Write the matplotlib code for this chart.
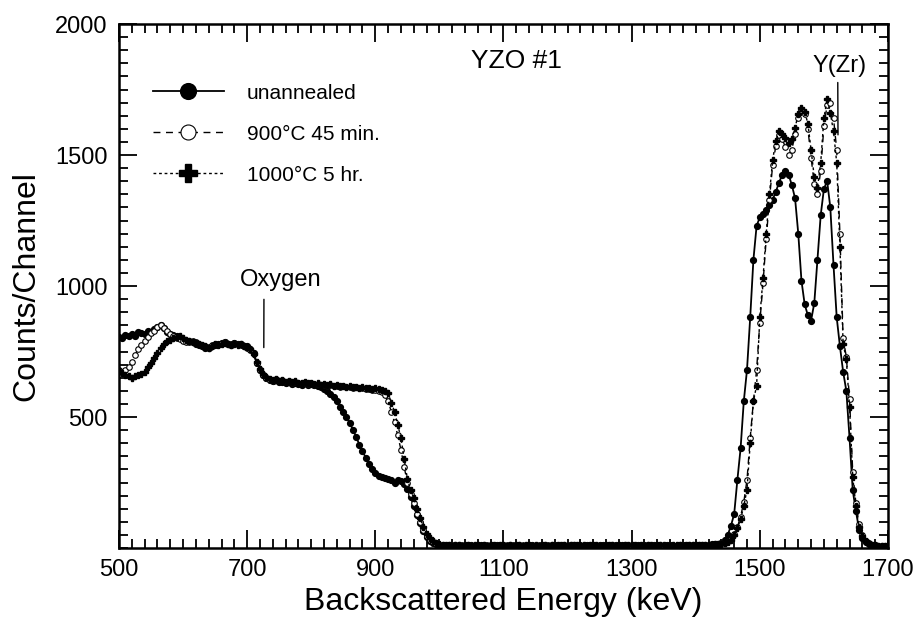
import numpy as np
import matplotlib
matplotlib.use('Agg')
import matplotlib.pyplot as plt
from matplotlib.ticker import MultipleLocator

# Canales de energía (keV), uno cada 5 keV
energia = np.arange(500, 1705, 5)

sin_recocer = [
    805, 800, 812, 808, 815, 810, 825, 820, 818, 830, 826, 835, 845, 850, 838, 825, 815, 812, 808, 800,
    795, 790, 792, 785, 780, 776, 770, 765, 762, 770, 775, 778, 782, 786, 780, 776, 782, 778, 780, 772,
    770, 760, 745, 705, 680, 660, 650, 640, 636, 642, 632, 635, 628, 632, 625, 630, 626, 622, 628, 624,
    625, 622, 618, 615, 608, 600, 588, 575, 560, 540, 520, 500, 478, 452, 425, 395, 370, 345, 320, 300,
    285, 275, 270, 266, 262, 258, 250, 258, 255, 245, 225, 195, 160, 125, 95, 65, 42, 28, 18, 14,
    12, 10, 9, 11, 8, 10, 12, 9, 7, 10, 11, 9, 8, 10, 12, 9, 10, 8, 11, 9,
    10, 8, 11, 9, 10, 12, 8, 9, 11, 10, 9, 8, 10, 11, 9, 12, 10, 8, 9, 11,
    9, 10, 12, 8, 11, 9, 10, 8, 12, 9, 10, 11, 8, 9, 10, 12, 9, 11, 10, 8,
    10, 9, 11, 8, 10, 12, 9, 10, 8, 11, 9, 10, 12, 9, 8, 10, 11, 9, 12, 10,
    11, 12, 10, 13, 12, 14, 15, 17, 20, 30, 50, 85, 130, 260, 380, 560, 680, 880, 1100, 1230,
    1262, 1275, 1290, 1308, 1330, 1360, 1395, 1425, 1440, 1425, 1385, 1335, 1200, 1020, 930, 888, 868, 935, 1100, 1270,
    1370, 1402, 1300, 1080, 880, 770, 673, 600, 420, 220, 140, 70, 40, 22, 15, 12, 10, 9, 8, 8,
    7,
]

rec_900 = [
    680, 672, 678, 690, 710, 735, 760, 775, 790, 805, 820, 830, 845, 852, 840, 828, 815, 808, 800, 798,
    792, 788, 785, 790, 785, 780, 776, 772, 768, 775, 780, 776, 782, 786, 780, 778, 784, 780, 776, 770,
    765, 755, 740, 705, 680, 662, 650, 642, 638, 644, 636, 640, 634, 636, 630, 634, 628, 630, 628, 625,
    628, 624, 626, 622, 624, 620, 622, 618, 620, 616, 618, 614, 616, 612, 614, 610, 612, 608, 606, 604,
    602, 600, 596, 585, 560, 520, 480, 430, 375, 310, 250, 205, 170, 130, 100, 70, 45, 32, 22, 16,
    13, 11, 9, 10, 12, 8, 10, 11, 9, 12, 10, 9, 11, 8, 10, 12, 9, 11, 10, 9,
    10, 12, 9, 11, 8, 10, 11, 9, 12, 10, 8, 11, 10, 9, 12, 10, 11, 8, 10, 9,
    11, 9, 10, 12, 9, 8, 11, 10, 9, 12, 10, 11, 9, 10, 8, 12, 11, 9, 10, 11,
    9, 11, 10, 8, 12, 10, 9, 11, 10, 12, 9, 10, 11, 8, 10, 9, 12, 10, 11, 10,
    10, 11, 10, 12, 13, 12, 14, 16, 18, 20, 25, 35, 55, 80, 120, 175, 260, 420, 560, 680,
    860, 1010, 1180, 1330, 1460, 1535, 1575, 1560, 1530, 1500, 1520, 1580, 1640, 1670, 1655, 1600, 1490, 1390, 1350, 1440,
    1610, 1690, 1700, 1640, 1520, 1200, 800, 730, 570, 290, 170, 90, 50, 28, 18, 13, 11, 9, 8, 8,
    7,
]

rec_1000 = [
    675, 668, 660, 655, 650, 655, 660, 665, 672, 690, 705, 725, 745, 765, 780, 790, 795, 800, 805, 808,
    800, 795, 790, 785, 782, 778, 775, 770, 765, 772, 778, 775, 780, 784, 778, 775, 780, 776, 778, 770,
    768, 758, 742, 710, 685, 665, 652, 645, 640, 645, 638, 640, 635, 638, 632, 636, 630, 628, 632, 628,
    630, 626, 628, 624, 626, 622, 625, 620, 622, 618, 620, 616, 618, 614, 616, 612, 614, 610, 612, 608,
    610, 606, 604, 600, 590, 555, 520, 470, 420, 340, 265, 222, 190, 150, 115, 80, 55, 40, 28, 20,
    15, 12, 10, 11, 9, 12, 10, 8, 11, 10, 9, 12, 10, 8, 11, 9, 10, 12, 9, 10,
    11, 9, 10, 8, 12, 10, 9, 11, 10, 8, 12, 9, 10, 11, 8, 10, 9, 12, 10, 11,
    9, 12, 10, 11, 8, 10, 9, 12, 11, 10, 8, 9, 12, 10, 11, 9, 10, 8, 12, 10,
    11, 10, 9, 12, 8, 11, 10, 9, 12, 10, 11, 8, 9, 10, 12, 11, 9, 10, 11, 12,
    10, 11, 12, 11, 13, 12, 14, 15, 16, 18, 22, 30, 50, 75, 110, 160, 223, 400, 560, 620,
    880, 1030, 1200, 1350, 1480, 1555, 1590, 1580, 1565, 1545, 1560, 1605, 1655, 1680, 1665, 1620, 1520, 1415, 1375, 1470,
    1640, 1712, 1660, 1590, 1470, 1150, 780, 720, 540, 270, 160, 80, 45, 25, 16, 12, 10, 9, 8, 8,
    7,
]

etiquetas = ['unannealed', '900°C 45 min.', '1000°C 5 hr.']

plt.rcParams['font.family'] = ['Liberation Sans', 'DejaVu Sans']

fig = plt.figure(figsize=(9.18, 6.24), dpi=100)
ax = fig.add_axes([0.1296, 0.1218, 0.8377, 0.8397])

ax.plot(energia, sin_recocer, color='black', linestyle='-', linewidth=1.3,
        marker='o', markersize=4.2, label=etiquetas[0])
ax.plot(energia, rec_900, color='black', linestyle=(0, (5, 4)), linewidth=1.0,
        marker='o', markersize=4.0, markerfacecolor='white', markeredgewidth=0.8,
        label=etiquetas[1])
ax.plot(energia, rec_1000, color='black', linestyle=(0, (2, 2)), linewidth=1.0,
        marker='P', markersize=4.8, label=etiquetas[2])

ax.set_xlim(500, 1700)
ax.set_ylim(0, 2000)
ax.set_xticks([500, 700, 900, 1100, 1300, 1500, 1700])
ax.set_yticks([500, 1000, 1500, 2000])
ax.xaxis.set_minor_locator(MultipleLocator(20))
ax.yaxis.set_minor_locator(MultipleLocator(50))
ax.tick_params(which='both', direction='in', top=True, right=True, width=1.3)
ax.tick_params(which='major', length=13, labelsize=17, pad=8)
ax.tick_params(which='minor', length=6.5)
for s in ax.spines.values():
    s.set_linewidth(1.8)

ax.set_xlabel('Backscattered Energy (keV)', fontsize=23, labelpad=4)
ax.set_ylabel('Counts/Channel', fontsize=23, labelpad=10)

ax.text(1121, 1860, 'YZO #1', fontsize=19, ha='center', va='center')
ax.annotate('Oxygen', xy=(726, 765), xytext=(753, 1023), fontsize=17,
            ha='center', va='center',
            arrowprops=dict(arrowstyle='-', color='black', lw=1.0,
                            relpos=(0.29, 0.0), shrinkA=4, shrinkB=0))
ax.annotate('Y(Zr)', xy=(1622, 1577), xytext=(1625, 1840), fontsize=17,
            ha='center', va='center',
            arrowprops=dict(arrowstyle='-', color='black', lw=1.0,
                            relpos=(0.46, 0.0), shrinkA=2, shrinkB=0))

ax.legend(loc='upper left', bbox_to_anchor=(0.044, 0.886), frameon=False,
          fontsize=15, markerscale=2.7, handlelength=3.4, handletextpad=1.1,
          labelspacing=1.05, borderpad=0, borderaxespad=0)

fig.savefig('out.png', dpi=100)
